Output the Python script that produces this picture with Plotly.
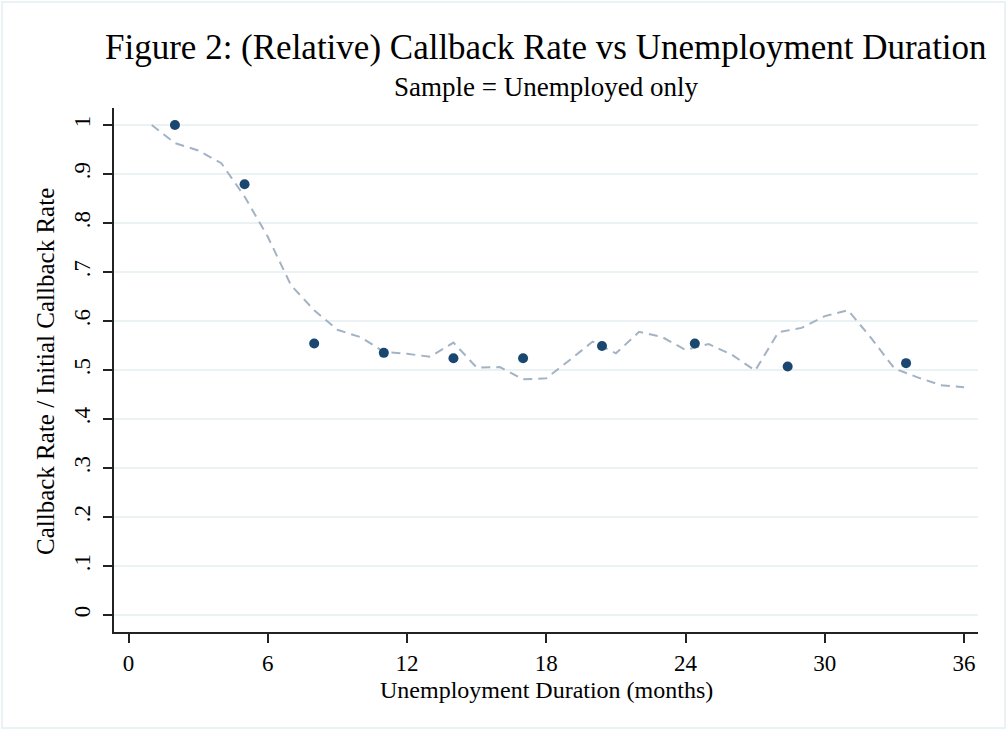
import plotly.graph_objects as go

# Binned callback rates (relative to the initial rate), by months unemployed
bin_months = [2.0, 5.0, 8.0, 11.0, 14.0, 17.0, 20.4, 24.4, 28.4, 33.5]
bin_rates = [1.0, 0.879, 0.554, 0.535, 0.524, 0.524, 0.549, 0.554, 0.507, 0.514]

# Smoothed relative callback rate at each month
smooth_months = list(range(1, 37))
smooth_rates = [1.000, 0.963, 0.948, 0.922, 0.854, 0.772, 0.673, 0.622, 0.582, 0.567,
                0.537, 0.533, 0.527, 0.556, 0.505, 0.506, 0.481, 0.483, 0.520, 0.558,
                0.534, 0.578, 0.567, 0.541, 0.553, 0.531, 0.499, 0.577, 0.586, 0.610,
                0.622, 0.565, 0.503, 0.485, 0.469, 0.465]

x_ticks = [0, 6, 12, 18, 24, 30, 36]
y_ticks = [0, 0.1, 0.2, 0.3, 0.4, 0.5, 0.6, 0.7, 0.8, 0.9, 1.0]
y_tick_labels = ["0", ".1", ".2", ".3", ".4", ".5", ".6", ".7", ".8", ".9", "1"]

FONT = "Liberation Serif, Times New Roman, serif"
GRID = "#eaf2f3"

W, H = 1007, 730
ML, MR, MT, MB = 114, 29, 108, 98
PW, PH = W - ML - MR, H - MT - MB


def px_to_paper_x(px):
    return (px - ML) / PW


def px_to_paper_y(py):
    return (H - MB - py) / PH


fig = go.Figure()

fig.add_trace(go.Scatter(
    x=smooth_months, y=smooth_rates, mode="lines",
    line=dict(color="#a3b3c4", width=2, dash="9px,6px"),
    showlegend=False, hoverinfo="skip",
))

fig.add_trace(go.Scatter(
    x=bin_months, y=bin_rates, mode="markers",
    marker=dict(color="#1a476f", size=10, line=dict(width=0)),
    showlegend=False,
))

fig.update_layout(
    width=W, height=H,
    margin=dict(l=ML, r=MR, t=MT, b=MB, pad=0),
    paper_bgcolor="white", plot_bgcolor="white",
    font=dict(family=FONT, size=23, color="#000000"),
    xaxis=dict(
        range=[-0.625, 36.6], tickmode="array", tickvals=x_ticks,
        ticks="outside", ticklen=9, tickwidth=1.5, tickcolor="#222",
        showline=True, linecolor="#222", linewidth=2,
        showgrid=False, zeroline=False,
        tickfont=dict(family=FONT, size=23),
    ),
    yaxis=dict(
        range=[-0.0347, 1.0347], tickmode="array", tickvals=y_ticks,
        ticktext=y_tick_labels, tickangle=-90, ticklabelstandoff=4,
        ticks="outside", ticklen=9, tickwidth=1.5, tickcolor="#222",
        showline=True, linecolor="#222", linewidth=2,
        showgrid=True, gridcolor=GRID, gridwidth=2, zeroline=False,
        tickfont=dict(family=FONT, size=23),
    ),
    shapes=[dict(
        type="rect", xref="paper", yref="paper",
        x0=px_to_paper_x(2), x1=px_to_paper_x(1005),
        y0=px_to_paper_y(728), y1=px_to_paper_y(2),
        line=dict(color=GRID, width=2), fillcolor="rgba(0,0,0,0)", layer="below",
    )],
    annotations=[
        dict(text="Figure 2: (Relative) Callback Rate vs Unemployment Duration",
             x=0.5, y=px_to_paper_y(47), xref="paper", yref="paper",
             xanchor="center", yanchor="middle", showarrow=False,
             font=dict(family=FONT, size=35)),
        dict(text="Sample = Unemployed only",
             x=0.5, y=px_to_paper_y(87), xref="paper", yref="paper",
             xanchor="center", yanchor="middle", showarrow=False,
             font=dict(family=FONT, size=27)),
        dict(text="Unemployment Duration (months)",
             x=0.5, y=px_to_paper_y(690), xref="paper", yref="paper",
             xanchor="center", yanchor="middle", showarrow=False,
             font=dict(family=FONT, size=24)),
        dict(text="Callback Rate / Initial Callback Rate",
             x=px_to_paper_x(45), y=px_to_paper_y(372), xref="paper", yref="paper",
             xanchor="center", yanchor="middle", showarrow=False, textangle=-90,
             font=dict(family=FONT, size=25)),
    ],
)

fig.write_html("out.html")
